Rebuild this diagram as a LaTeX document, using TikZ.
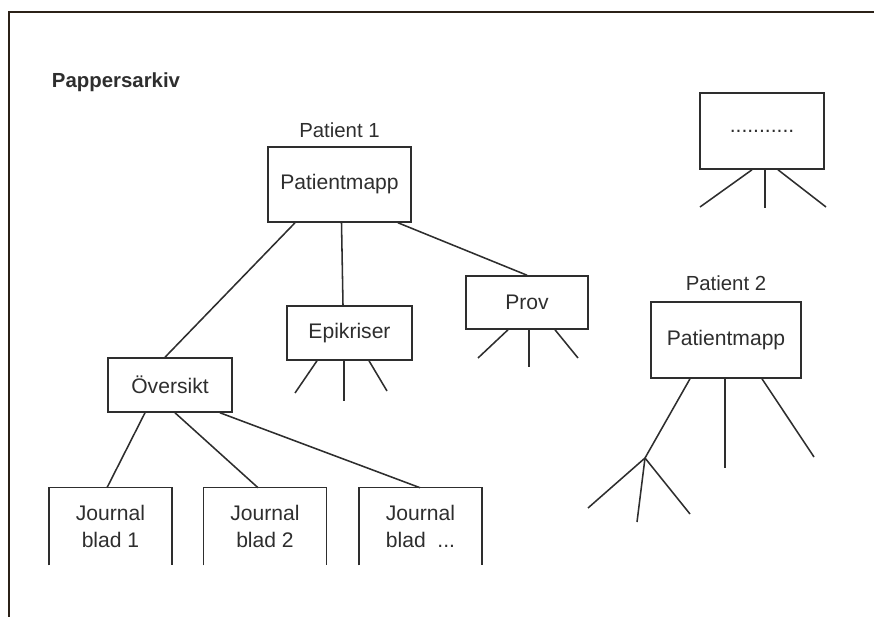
\documentclass[tikz,border=0pt]{standalone}
\usepackage{fontspec}
\setmainfont{Liberation Sans}
\usetikzlibrary{positioning, calc}
\definecolor{framebrown}{HTML}{2B2118}
\definecolor{inkgrey}{HTML}{2E2E2E}

\begin{document}
\begin{tikzpicture}[x=0.025cm, y=-0.025cm, node distance=1cm]
\tikzstyle{folder} = [rectangle, draw=inkgrey, line width=1.1pt, text=inkgrey, align=center, inner sep=0pt, font=\fontsize{15}{19}\selectfont]
\tikzstyle{sheet} = [rectangle, text=inkgrey, align=center, inner sep=0pt, minimum width=3.07cm, minimum height=1.925cm, font=\fontsize{15}{19.2}\selectfont]
\tikzstyle{caption} = [text=inkgrey, font=\fontsize{14.5}{17}\selectfont]
\tikzstyle{leg} = [-, line width=1.1pt, draw=inkgrey]

\useasboundingbox (0,0) rectangle (874,617);
\draw[framebrown, line width=1pt] (874,12) -- (9,12) -- (9,617);

\node (title) at (116,82) [text=inkgrey, font=\bfseries\fontsize{14.5}{16}\selectfont] {Pappersarkiv};

% Patient 1
\node (pm1) at (339.5,184.5) [folder, minimum width=3.575cm, minimum height=1.875cm] {Patientmapp};
\node (p1) [caption, above=0.1cm of pm1] {Patient 1};
\node (epi) at (349.5,333) [folder, minimum width=3.125cm, minimum height=1.35cm] {Epikriser};
\node (prov) at (527,302.5) [folder, minimum width=3.05cm, minimum height=1.325cm] {Prov};
\node (ovs) at (170,385) [folder, minimum width=3.1cm, minimum height=1.35cm] {Översikt};
\node (j1) at (110.5,526.5) [sheet] {Journal\\blad 1};
\node (j2) at (265,526.5) [sheet] {Journal\\blad 2};
\node (j3) at (420.5,526.5) [sheet] {Journal\\blad~~...};

% Patient 2
\node (pm2) at (726,340) [folder, minimum width=3.75cm, minimum height=1.9cm] {Patientmapp};
\node (p2) [caption, above=0.15cm of pm2] {Patient 2};
\node (more) at (762,131) [folder, minimum width=3.1cm, minimum height=1.9cm] {...........};

% loose ends
\coordinate (e1) at (295,393);
\coordinate (e2) at (344,401);
\coordinate (e3) at (387,391);
\coordinate (r1) at (478,358);
\coordinate (r2) at (529,367);
\coordinate (r3) at (578,358);
\coordinate (m1) at (700,207);
\coordinate (m2) at (765,208);
\coordinate (m3) at (826,207);
\coordinate (fork) at (645,458);
\coordinate (q2) at (725,468);
\coordinate (q3) at (814,457);
\coordinate (f1) at (588,508);
\coordinate (f2) at (637,522);
\coordinate (f3) at (690,514);

% open journal sheets
\foreach \j in {j1, j2, j3} {
    \draw[leg] (\j.south west) |- (\j.north east) -- (\j.south east);
}

% Draw tree
\foreach \a/\da/\b/\db in {pm1/-44.5/ovs/-5, pm1/2/epi/-6.5, pm1/58.5/prov/0, ovs/-25/j1/-3.5, ovs/5/j2/-7, ovs/50/j3/-0.5} {
    \draw[leg] ($(\a.south)+(\da,0)$) -- ($(\b.north)+(\db,0)$);
}
\foreach \from/\dx/\to in {epi/-32.5/e1, epi/-5.5/e2, epi/19.5/e3, prov/-19/r1, prov/2/r2, prov/28/r3, more/-10/m1, more/3/m2, more/16/m3, pm2/-36/fork, pm2/-1/q2, pm2/36/q3} {
    \draw[leg] ($(\from.south)+(\dx,0)$) -- (\to);
}
\foreach \to in {f1, f2, f3} {
    \draw[leg] (fork) -- (\to);
}

\end{tikzpicture}
\end{document}
